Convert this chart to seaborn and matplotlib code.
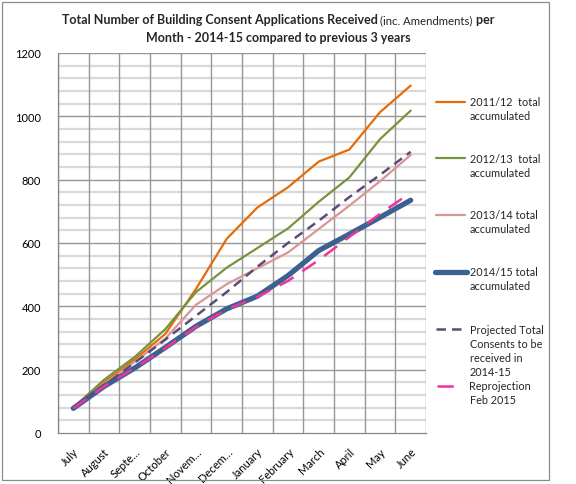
import numpy as np
import pandas as pd
import matplotlib
matplotlib.use("Agg")
import matplotlib.pyplot as plt
import seaborn as sns
from matplotlib.lines import Line2D
from matplotlib.patches import Rectangle
from matplotlib.ticker import FixedLocator

# ---------------- data ----------------
months = ["July", "August", "Septe\u2026", "October", "Novem\u2026", "Decem\u2026",
          "January", "February", "March", "April", "May", "June"]
y2011_12 = [80, 160, 232, 313, 455, 613, 712, 776, 857, 895, 1013, 1097]
y2012_13 = [80, 168, 240, 328, 445, 522, 584, 646, 730, 807, 928, 1018]
y2013_14 = [80, 155, 225, 298, 405, 470, 520, 570, 644, 718, 795, 878]
y2014_15 = [78, 147, 205, 270, 337, 392, 432, 497, 576, 628, 681, 735]
projected = [80, 150, 222, 295, 370, 445, 525, 600, 670, 745, 815, 888]
reprojection = [78, 147, 205, 268, 335, 390, 430, 480, 546, 619, 692, 759]

series_labels = ["2011/12  total\naccumulated", "2012/13  total\naccumulated",
                 "2013/14 total\naccumulated", "2014/15 total\naccumulated",
                 "Projected Total\nConsents to be\nreceived in\n2014-15",
                 "Reprojection\nFeb 2015"]
series_values = [y2011_12, y2012_13, y2013_14, y2014_15, projected, reprojection]
y_ticks = [0, 200, 400, 600, 800, 1000, 1200]

title_line1 = [("Total Number of Building Consent Applications Received ", "bold", 9.0),
               ("(inc. Amendments)", "normal", 8.2),
               (" per", "bold", 9.0)]
title_line2 = "Month - 2014-15 compared to previous 3 years"

# ---------------- styles ----------------
styles = [
    dict(color="#E46C0A", lw=1.6, ls="-"),
    dict(color="#77933C", lw=1.6, ls="-"),
    dict(color="#D99694", lw=1.6, ls="-"),
    dict(color="#3B6193", lw=3.8, ls="-"),
    dict(color="#5F4B78", lw=1.8, ls=(0, (3.8, 2.4))),
    dict(color="#F0349A", lw=1.8, ls=(0, (6.5, 4.2))),
]

sns.set_style("white")
plt.rcParams["font.family"] = ["Lato", "DejaVu Sans"]

W, H = 576, 485
fig = plt.figure(figsize=(W / 100, H / 100), dpi=100)

def px(x, y):
    return x / W, 1 - y / H

# outer chart border
fig.add_artist(Rectangle(px(2, 481), 547 / W, 478 / H, transform=fig.transFigure,
                         fill=False, edgecolor="#8C8C8C", lw=0.9))

left, top, right, bottom = 58, 54, 426, 434
ax = fig.add_axes([left / W, 1 - bottom / H, (right - left) / W, (bottom - top) / H])

xpos = np.arange(len(months))
rows = []
for lab, vals in zip(series_labels, series_values):
    for m, x, v in zip(months, xpos, vals):
        rows.append(dict(series=lab, x=x, value=v))
df = pd.DataFrame(rows)

for i, lab in enumerate(series_labels):
    st = styles[i]
    sub = df[df["series"] == lab]
    sns.lineplot(data=sub, x="x", y="value", ax=ax, color=st["color"], lw=st["lw"],
                 linestyle=st["ls"], solid_capstyle="round", dash_capstyle="butt",
                 zorder=3 + i, legend=False)

ax.set_xlim(-0.5, len(months) - 0.5)
ax.set_ylim(0, 1200)
ax.set_xlabel("")
ax.set_ylabel("")

# grid
for yv in range(40, 1201, 40):
    if yv % 200 == 0:
        ax.axhline(yv, color="#979797", lw=1.0, zorder=1)
    else:
        ax.axhline(yv, color="#D9D9D9", lw=1.6, zorder=0.5)
for xb in np.arange(-0.5, len(months), 1.0):
    ax.axvline(xb, color="#979797", lw=1.0, zorder=1)

ax.set_yticks(y_ticks)
ax.set_yticklabels([str(t) for t in y_ticks], fontsize=8.0)
ax.set_xticks(xpos)
ax.set_xticklabels(months, fontsize=8.0, rotation=45, ha="right", rotation_mode="anchor")
ax.xaxis.set_minor_locator(FixedLocator(np.arange(-0.5, len(months), 1.0)))
ax.tick_params(axis="x", which="major", length=0, pad=9)
ax.tick_params(axis="x", which="minor", length=4, color="#868686", width=0.8, direction="out")
ax.tick_params(axis="y", which="major", length=4, color="#868686", width=0.8, direction="out", pad=8)
ax.tick_params(axis="both", colors="#868686", labelcolor="black")

for s in ["top", "right"]:
    ax.spines[s].set_visible(False)
for s in ["left", "bottom"]:
    ax.spines[s].set_color("#868686")
    ax.spines[s].set_linewidth(0.9)

# ---------------- title ----------------
fig.canvas.draw()
renderer = fig.canvas.get_renderer()
cx = 278
texts = []
widths = []
for t, wt, fs in title_line1:
    tt = fig.text(0, 0, t, fontsize=fs, fontweight=wt, ha="left", va="baseline",
                  transform=fig.transFigure)
    texts.append(tt)
    widths.append(tt.get_window_extent(renderer).width)
total = sum(widths)
xcur = cx - total / 2
for tt, w in zip(texts, widths):
    tt.set_position(px(xcur, 24))
    xcur += w
fig.text(*px(cx, 42), title_line2, fontsize=9.0, fontweight="bold", ha="center", va="baseline")

# ---------------- legend (manual) ----------------
first_y = [102.7, 159.3, 216, 273, 330, 386.7]
handle_x = [(436, 465), (436, 465), (436, 465), (435, 466.5), (436, 463), (436.5, 456)]
for i, lab in enumerate(series_labels):
    st = styles[i]
    x0, x1 = handle_x[i]
    yf = 1 - first_y[i] / H
    fig.add_artist(Line2D([x0 / W, x1 / W], [yf, yf], transform=fig.transFigure,
                          color=st["color"], lw=st["lw"], linestyle=st["ls"],
                          solid_capstyle="round", dash_capstyle="butt"))
    for j, line in enumerate(lab.split("\n")):
        fig.text(*px(469.5, first_y[i] + 14 * j), line, fontsize=7.8, ha="left", va="center")

fig.savefig("out.png", dpi=100)
